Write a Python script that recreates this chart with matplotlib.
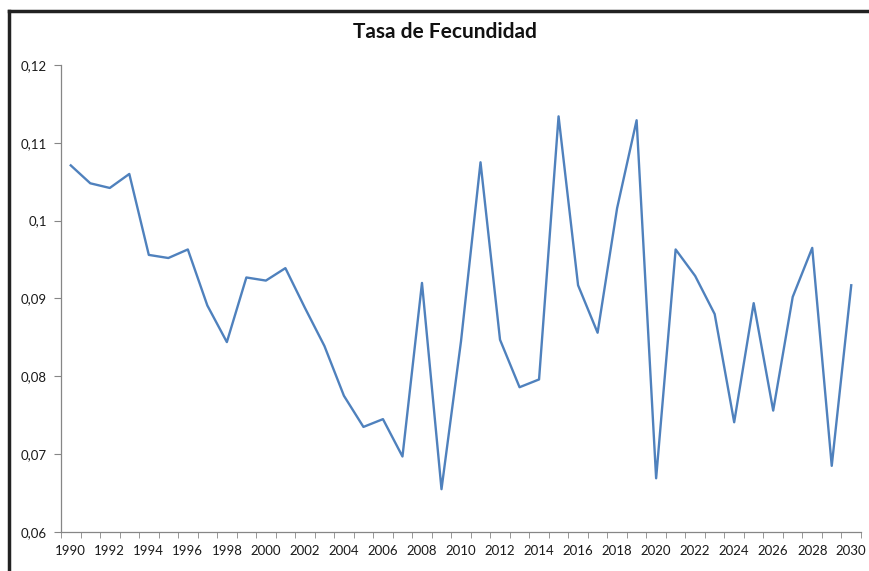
import matplotlib
matplotlib.use("Agg")
import matplotlib.pyplot as plt
from matplotlib.lines import Line2D

# Datos
years = list(range(1990, 2031))
tasa = [0.1071, 0.1048, 0.1042, 0.1060, 0.0956, 0.0952, 0.0963, 0.0891, 0.0844, 0.0927,
        0.0923, 0.0939, 0.0888, 0.0839, 0.0775, 0.0735, 0.0745, 0.0697, 0.0920, 0.0655,
        0.0845, 0.1075, 0.0847, 0.0786, 0.0796, 0.1134, 0.0917, 0.0856, 0.1016, 0.1129,
        0.0669, 0.0963, 0.0929, 0.0880, 0.0741, 0.0894, 0.0756, 0.0902, 0.0965, 0.0685,
        0.0917]
y_ticks = [0.06, 0.07, 0.08, 0.09, 0.10, 0.11, 0.12]
y_labels = ["0,06", "0,07", "0,08", "0,09", "0,1", "0,11", "0,12"]

plt.rcParams['font.family'] = ['Lato', 'DejaVu Sans']

fig = plt.figure(figsize=(8.69, 5.71), dpi=100)
ax = fig.add_axes([0.0702, 0.0683, 0.9206, 0.8179])

idx = list(range(len(years)))
ax.plot(idx, tasa, color='#4F81BD', linewidth=1.7)

ax.set_xlim(-0.5, len(years) - 0.5)
ax.set_ylim(0.06, 0.12)

# eje x tipo Excel: marcas entre categorias, etiquetas cada dos años
ax.set_xticks(idx[::2])
ax.set_xticklabels([str(y) for y in years[::2]], fontsize=9.5)
ax.set_xticks([i - 0.5 for i in range(len(years) + 1)], minor=True)
ax.tick_params(axis='x', which='major', length=0, pad=9, colors='#1a1a1a')
ax.tick_params(axis='x', which='minor', length=4, color='#868686', direction='out')

ax.set_yticks(y_ticks)
ax.set_yticklabels(y_labels, fontsize=9.5)
ax.tick_params(axis='y', length=5, color='#868686', labelcolor='#1a1a1a',
               direction='out', pad=5)

for side in ['top', 'right']:
    ax.spines[side].set_visible(False)
for side in ['left', 'bottom']:
    ax.spines[side].set_color('#868686')
    ax.spines[side].set_linewidth(0.9)

fig.text(0.512, 0.944, "Tasa de Fecundidad", ha='center', va='center',
         fontsize=15, fontweight='bold', color='#111111')

# borde del grafico (solo arriba e izquierda visibles)
W, H = 869, 571
fig.add_artist(Line2D([8.5 / W, 1], [1 - 10.5 / H, 1 - 10.5 / H],
                      transform=fig.transFigure, color='#222222', linewidth=2.5))
fig.add_artist(Line2D([8.5 / W, 8.5 / W], [0, 1 - 10.5 / H],
                      transform=fig.transFigure, color='#222222', linewidth=2.5))

fig.savefig("out.png", dpi=100)
